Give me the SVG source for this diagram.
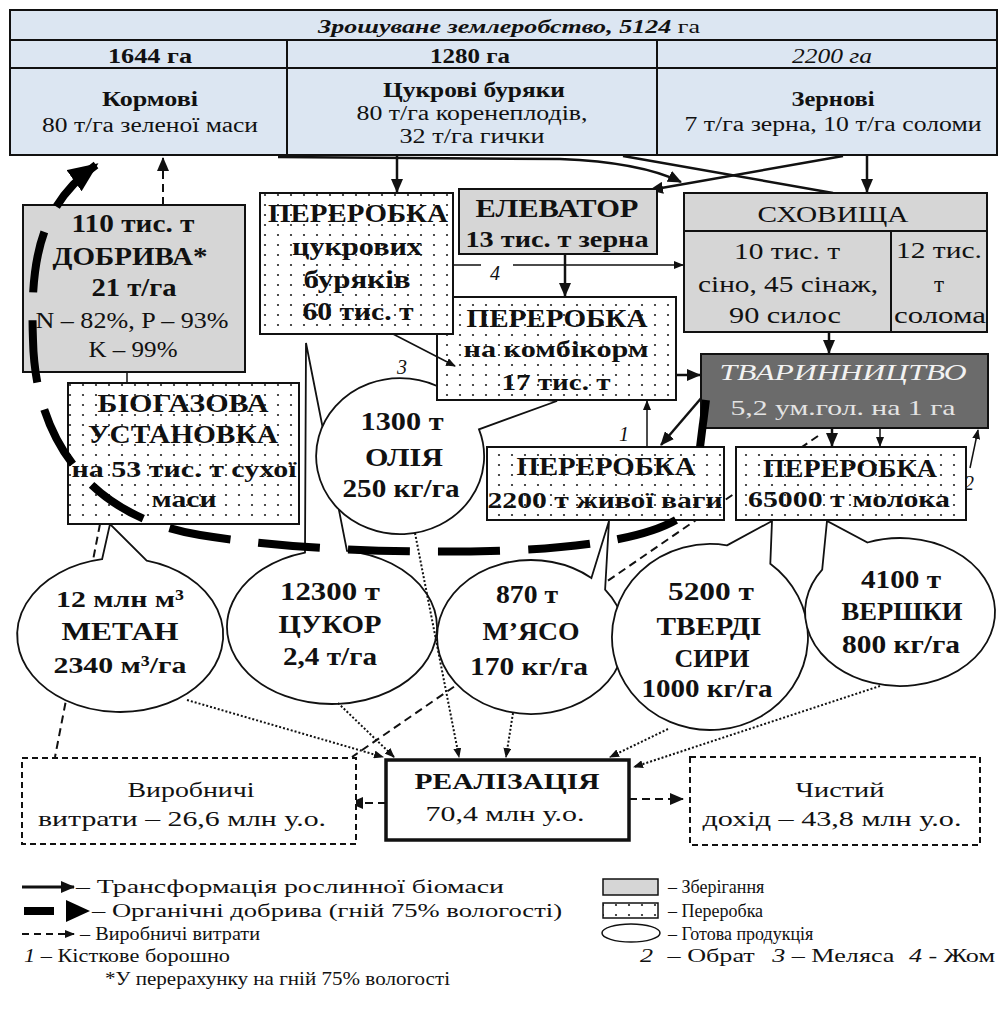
<svg xmlns="http://www.w3.org/2000/svg" width="1001" height="1016" viewBox="0 0 1001 1016">
<defs>
<pattern id="dots" width="13" height="10" patternUnits="userSpaceOnUse"><rect width="13" height="10" fill="#fff"/><circle cx="5" cy="5" r="1.1" fill="#222"/></pattern>
<marker id="ah" markerWidth="14" markerHeight="12" refX="13" refY="6" orient="auto" markerUnits="userSpaceOnUse"><path d="M0,0 L14,6 L0,12 z" fill="#111"/></marker>
<marker id="ahs" markerWidth="10" markerHeight="8" refX="9" refY="4" orient="auto" markerUnits="userSpaceOnUse"><path d="M0,0 L10,4 L0,8 z" fill="#111"/></marker>
<marker id="ahb" markerWidth="30" markerHeight="26" refX="27" refY="13" orient="auto" markerUnits="userSpaceOnUse"><path d="M0,0 L30,13 L0,26 z" fill="#000"/></marker>
<style>
.t{font-family:"Liberation Serif","Times New Roman",serif;fill:#111}
.b{font-weight:bold}
.i{font-style:italic}
.c{text-anchor:middle}
.box{stroke:#111;stroke-width:2}
.gray{fill:#d6d6d6}
.dot{fill:url(#dots)}
.cell{fill:none;stroke:#111;stroke-width:2}
.call{fill:#fff;stroke:#111;stroke-width:1.8}
.ln{fill:none;stroke:#111;stroke-width:2.5}
.thin{fill:none;stroke:#111;stroke-width:1.5}
.dsh{fill:none;stroke:#111;stroke-width:2;stroke-dasharray:8 5}
.dtt{fill:none;stroke:#111;stroke-width:2;stroke-dasharray:2 2}
.org{fill:none;stroke:#000;stroke-width:8;stroke-dasharray:62 28}
.lbl{font-family:"Liberation Serif","Times New Roman",serif;font-style:italic;font-size:20px;fill:#111;text-anchor:middle}
.lg{font-family:"Liberation Serif","Times New Roman",serif;font-size:18px;fill:#111}
</style>
</defs>
<rect width="1001" height="1016" fill="#fff"/>

<g id="connectors">
<path class="ln" d="M278,157 L560,159 Q640,162 681,182" marker-end="url(#ah)"/>
<path class="ln" d="M397,156 L397,192" marker-end="url(#ah)"/>
<path class="ln" d="M623,156 L833,193"/>
<path class="ln" d="M843,156 L650,190" marker-end="url(#ah)"/>
<path class="ln" d="M867,156 L867,192" marker-end="url(#ah)"/>
<path class="ln" d="M565,254 L565,296" marker-end="url(#ah)"/>
<path class="thin" d="M453,265 L481,265 M513,265 L683,265" marker-end="url(#ahs)"/>
<path class="ln" d="M676,375 L700,375" marker-end="url(#ah)"/>
<path class="ln" d="M829,332 L829,353" marker-end="url(#ah)"/>
<path class="ln" d="M703,396 L661,445" marker-end="url(#ah)"/>
<path class="thin" d="M647,447 L647,401" marker-end="url(#ahs)"/>
<path class="ln" d="M832,428 L832,446" marker-end="url(#ah)"/>
<path class="thin" d="M880,428 L880,446" marker-end="url(#ahs)"/>
<path class="thin" d="M970,468 L978,430" marker-end="url(#ahs)"/>
<path class="dsh" d="M163,205 L163,158" marker-end="url(#ah)"/>
<path class="thin" d="M127,372 L127,383"/>
<path class="dsh" d="M100,524 L55,757"/>
<path class="dsh" d="M818,436 L352,757"/>
<path class="dsh" d="M386,803 L350,803" marker-end="url(#ah)"/>
<path class="dsh" d="M629,799 L683,799" marker-end="url(#ah)"/>
<text class="lbl" x="495" y="280">4</text>
<text class="lbl" x="402" y="374">3</text>
<text class="lbl" x="624" y="441">1</text>
<text class="lbl" x="969" y="490">2</text>
</g>

<g id="metan">
<path class="call" d="M102.1,559.2 L110,524 L146.7,560.6 A103,77 0 1 1 102.1,559.2 Z"/>
<text class="t b c" font-size="24" x="120" y="607" textLength="128" lengthAdjust="spacingAndGlyphs">12 млн м³</text>
<text class="t b c" font-size="25" x="120" y="640" textLength="117" lengthAdjust="spacingAndGlyphs">МЕТАН</text>
<text class="t b c" font-size="24" x="120" y="673" textLength="133" lengthAdjust="spacingAndGlyphs">2340 м³/га</text>
</g>
<g id="tsukor">
<path class="call" d="M305,552.6 L306,343 L347,550.8 A105,77 0 1 1 305,552.6 Z"/>
<text class="t b c" font-size="25" x="330" y="600" textLength="100" lengthAdjust="spacingAndGlyphs">12300 т</text>
<text class="t b c" font-size="25" x="330" y="633" textLength="103" lengthAdjust="spacingAndGlyphs">ЦУКОР</text>
<text class="t b c" font-size="25" x="330" y="665" textLength="94" lengthAdjust="spacingAndGlyphs">2,4 т/га</text>
</g>
<g id="oliia">
<path class="call" d="M444.5,389.9 L557,401 L479,429.3 A84,78 0 1 1 444.5,389.9 Z"/>
<text class="t b c" font-size="25" x="402" y="430" textLength="83" lengthAdjust="spacingAndGlyphs">1300 т</text>
<text class="t b c" font-size="25" x="404" y="466" textLength="78" lengthAdjust="spacingAndGlyphs">ОЛІЯ</text>
<text class="t b c" font-size="25" x="401" y="497" textLength="117" lengthAdjust="spacingAndGlyphs">250 кг/га</text>
</g>
<g id="miaso">
<path class="call" d="M591.4,578 L609,521 L605.1,589.6 A94,77 0 1 1 591.4,578 Z"/>
<text class="t b c" font-size="25" x="527" y="603" textLength="62" lengthAdjust="spacingAndGlyphs">870 т</text>
<text class="t b c" font-size="25" x="531" y="640" textLength="97" lengthAdjust="spacingAndGlyphs">М’ЯСО</text>
<text class="t b c" font-size="25" x="529" y="675" textLength="118" lengthAdjust="spacingAndGlyphs">170 кг/га</text>
</g>
<g id="syry">
<path class="call" d="M727,545.4 L772,521 L770.3,563.7 A98,93 0 1 1 727,545.4 Z"/>
<text class="t b c" font-size="25" x="711" y="600" textLength="86" lengthAdjust="spacingAndGlyphs">5200 т</text>
<text class="t b c" font-size="25" x="709" y="635" textLength="105" lengthAdjust="spacingAndGlyphs">ТВЕРДІ</text>
<text class="t b c" font-size="25" x="712" y="667" textLength="75" lengthAdjust="spacingAndGlyphs">СИРИ</text>
<text class="t b c" font-size="25" x="707" y="697" textLength="131" lengthAdjust="spacingAndGlyphs">1000 кг/га</text>
</g>
<g id="vershky">
<path class="call" d="M822.2,569.6 L827,521 L867.5,542.5 A95,74 0 1 1 822.2,569.6 Z"/>
<text class="t b c" font-size="25" x="901" y="588" textLength="80" lengthAdjust="spacingAndGlyphs">4100 т</text>
<text class="t b c" font-size="25" x="902" y="620" textLength="121" lengthAdjust="spacingAndGlyphs">ВЕРШКИ</text>
<text class="t b c" font-size="25" x="901" y="653" textLength="118" lengthAdjust="spacingAndGlyphs">800 кг/га</text>
</g>

<g id="table">
<rect x="10" y="10" width="987" height="145" fill="#dce6f2" stroke="#111" stroke-width="2"/>
<path class="cell" d="M10,40 H997 M10,68 H997 M287,40 V155 M657,40 V155"/>
<text class="t b i c" font-size="19" x="509" y="33" textLength="382" lengthAdjust="spacingAndGlyphs">Зрошуване землеробство, 5124 <tspan font-weight="normal" font-style="normal">га</tspan></text>
<g id="kormovi">
<text class="t b c" font-size="20" x="150" y="63" textLength="84" lengthAdjust="spacingAndGlyphs">1644 га</text>
<text class="t b c" font-size="22" x="150" y="106" textLength="96" lengthAdjust="spacingAndGlyphs">Кормові</text>
<text class="t c" font-size="20" x="150" y="132" textLength="216" lengthAdjust="spacingAndGlyphs">80 т/га зеленої маси</text>
</g>
<g id="tsukrovi">
<text class="t b c" font-size="20" x="470" y="63" textLength="80" lengthAdjust="spacingAndGlyphs">1280 га</text>
<text class="t b c" font-size="22" x="474" y="97" textLength="182" lengthAdjust="spacingAndGlyphs">Цукрові буряки</text>
<text class="t c" font-size="20" x="472" y="120" textLength="231" lengthAdjust="spacingAndGlyphs">80 т/га коренеплодів,</text>
<text class="t c" font-size="20" x="472" y="143" textLength="145" lengthAdjust="spacingAndGlyphs">32 т/га гички</text>
</g>
<g id="zernovi">
<text class="t i c" font-size="20" x="832" y="63" textLength="80" lengthAdjust="spacingAndGlyphs">2200 га</text>
<text class="t b c" font-size="22" x="833" y="106" textLength="83" lengthAdjust="spacingAndGlyphs">Зернові</text>
<text class="t c" font-size="20" x="833" y="131" textLength="297" lengthAdjust="spacingAndGlyphs">7 т/га зерна, 10 т/га соломи</text>
</g>
</g>

<g id="dobryva">
<rect class="box gray" x="23" y="205" width="222" height="167"/>
<text class="t b c" font-size="25" x="133" y="232" textLength="123" lengthAdjust="spacingAndGlyphs">110 тис. т</text>
<text class="t b c" font-size="25" x="130" y="265" textLength="155" lengthAdjust="spacingAndGlyphs">ДОБРИВА*</text>
<text class="t b c" font-size="25" x="134" y="296" textLength="85" lengthAdjust="spacingAndGlyphs">21 т/га</text>
<text class="t c" font-size="23" x="132" y="328" textLength="193" lengthAdjust="spacingAndGlyphs">N – 82%, P – 93%</text>
<text class="t c" font-size="23" x="133" y="357" textLength="89" lengthAdjust="spacingAndGlyphs">K – 99%</text>
</g>
<g id="biogaz">
<rect class="box dot" x="68" y="383" width="231" height="141"/>
<text class="t b c" font-size="25" x="183" y="412" textLength="171" lengthAdjust="spacingAndGlyphs">БІОГАЗОВА</text>
<text class="t b c" font-size="25" x="183" y="443" textLength="190" lengthAdjust="spacingAndGlyphs">УСТАНОВКА</text>
<text class="t b c" font-size="24" x="184" y="477" textLength="225" lengthAdjust="spacingAndGlyphs">на 53 тис. т сухої</text>
<text class="t b c" font-size="24" x="184" y="507" textLength="65" lengthAdjust="spacingAndGlyphs">маси</text>
</g>
<g id="kombikorm">
<rect class="box dot" x="437" y="297" width="239" height="103"/>
<text class="t b c" font-size="25" x="557" y="327" textLength="181" lengthAdjust="spacingAndGlyphs">ПЕРЕРОБКА</text>
<text class="t b c" font-size="24" x="556" y="357" textLength="185" lengthAdjust="spacingAndGlyphs">на комбікорм</text>
<text class="t b c" font-size="24" x="556" y="390" textLength="109" lengthAdjust="spacingAndGlyphs">17 тис. т</text>
</g>
<g id="tsukrovi-pererobka">
<rect class="box dot" x="260" y="193" width="193" height="141"/>
<text class="t b c" font-size="25" x="358" y="222" textLength="180" lengthAdjust="spacingAndGlyphs">ПЕРЕРОБКА</text>
<text class="t b c" font-size="25" x="357" y="255" textLength="130" lengthAdjust="spacingAndGlyphs">цукрових</text>
<text class="t b c" font-size="25" x="357" y="288" textLength="107" lengthAdjust="spacingAndGlyphs">буряків</text>
<text class="t b c" font-size="25" x="358" y="320" textLength="111" lengthAdjust="spacingAndGlyphs">60 тис. т</text>
</g>
<g id="elevator">
<rect class="box gray" x="459" y="189" width="198" height="65"/>
<text class="t b c" font-size="25" x="557" y="217" textLength="163" lengthAdjust="spacingAndGlyphs">ЕЛЕВАТОР</text>
<text class="t b c" font-size="24" x="557" y="247" textLength="183" lengthAdjust="spacingAndGlyphs">13 тис. т зерна</text>
</g>
<g id="skhovyshcha">
<rect class="box gray" x="684" y="193" width="303" height="139"/>
<path class="cell" d="M684,231 H987 M891,231 V332"/>
<text class="t c" font-size="23" x="833" y="222" textLength="151" lengthAdjust="spacingAndGlyphs">СХОВИЩА</text>
<text class="t c" font-size="23" x="787" y="259" textLength="106" lengthAdjust="spacingAndGlyphs">10 тис. т</text>
<text class="t c" font-size="23" x="788" y="292" textLength="180" lengthAdjust="spacingAndGlyphs">сіно, 45 сінаж,</text>
<text class="t c" font-size="23" x="785" y="323" textLength="112" lengthAdjust="spacingAndGlyphs">90 силос</text>
<text class="t c" font-size="23" x="939" y="258" textLength="86" lengthAdjust="spacingAndGlyphs">12 тис.</text>
<text class="t c" font-size="23" x="939" y="292">т</text>
<text class="t c" font-size="23" x="940" y="323" textLength="92" lengthAdjust="spacingAndGlyphs">солома</text>
</g>
<g id="tvarynnytstvo">
<rect x="701" y="354" width="287" height="74" fill="#6b6b6b" stroke="#111" stroke-width="2"/>
<text class="t i c" font-size="24" x="843" y="380" style="fill:#f2f2f2" textLength="247" lengthAdjust="spacingAndGlyphs">ТВАРИННИЦТВО</text>
<text class="t c" font-size="22" x="843" y="415" style="fill:#e4e4e4" textLength="225" lengthAdjust="spacingAndGlyphs">5,2 ум.гол. на 1 га</text>
</g>
<g id="miaso-pererobka">
<rect class="box dot" x="487" y="447" width="237" height="73"/>
<text class="t b c" font-size="25" x="606" y="475" textLength="179" lengthAdjust="spacingAndGlyphs">ПЕРЕРОБКА</text>
<text class="t b c" font-size="24" x="605" y="508" textLength="235" lengthAdjust="spacingAndGlyphs">2200 т живої ваги</text>
</g>
<g id="moloko-pererobka">
<rect class="box dot" x="736" y="447" width="230" height="73"/>
<text class="t b c" font-size="25" x="850" y="477" textLength="174" lengthAdjust="spacingAndGlyphs">ПЕРЕРОБКА</text>
<text class="t b c" font-size="24" x="849" y="507" textLength="202" lengthAdjust="spacingAndGlyphs">65000 т молока</text>
</g>
<g id="vytraty">
<rect x="22" y="758" width="334" height="86" fill="#fff" stroke="#111" stroke-width="2" stroke-dasharray="6 4"/>
<text class="t c" font-size="22" x="191" y="797" textLength="127" lengthAdjust="spacingAndGlyphs">Виробничі</text>
<text class="t c" font-size="22" x="182" y="826" textLength="288" lengthAdjust="spacingAndGlyphs">витрати – 26,6 млн у.о.</text>
</g>
<g id="realizatsiia">
<rect x="386" y="760" width="243" height="80" fill="#fff" stroke="#111" stroke-width="3.5"/>
<text class="t b c" font-size="24" x="507" y="789" textLength="185" lengthAdjust="spacingAndGlyphs">РЕАЛІЗАЦІЯ</text>
<text class="t c" font-size="22" x="505" y="821" textLength="159" lengthAdjust="spacingAndGlyphs">70,4 млн у.о.</text>
</g>
<g id="dokhid">
<rect x="690" y="757" width="290" height="88" fill="#fff" stroke="#111" stroke-width="2" stroke-dasharray="6 4"/>
<text class="t c" font-size="22" x="840" y="797" textLength="89" lengthAdjust="spacingAndGlyphs">Чистий</text>
<text class="t c" font-size="22" x="832" y="826" textLength="259" lengthAdjust="spacingAndGlyphs">дохід – 43,8 млн у.о.</text>
</g>

<g id="connectors-front">
<path class="org" d="M676,520 C650,535 600,546 520,550 C400,555 280,548 200,535 C90,517 35,440 33,340 C30,260 40,205 96,165" marker-end="url(#ahb)"/>
<path d="M706,400 L700,447" stroke="#000" stroke-width="8"/>
<path class="thin" d="M393,334 L455,366" marker-end="url(#ahs)"/>
<path class="dtt" d="M187,700 L383,757" marker-end="url(#ahs)"/>
<path class="dtt" d="M338,703 L394,757" marker-end="url(#ahs)"/>
<path class="dtt" d="M415,533 L459,757" marker-end="url(#ahs)"/>
<path class="dtt" d="M513,713 L506,757" marker-end="url(#ahs)"/>
<path class="dtt" d="M668,729 L610,757" marker-end="url(#ahs)"/>
<path class="dtt" d="M880,686 L634,767" marker-end="url(#ahs)"/>
</g>

<g id="legend">
<path d="M22,887 L74,887" stroke="#111" stroke-width="3" marker-end="url(#ah)"/>
<text class="lg" x="76" y="893" textLength="428" lengthAdjust="spacingAndGlyphs">– Трансформація рослинної біомаси</text>
<rect x="24" y="907" width="30" height="8" fill="#000"/>
<path d="M66,900 L90,911 L66,922 z" fill="#000"/>
<text class="lg" x="92" y="917" textLength="470" lengthAdjust="spacingAndGlyphs">– Органічні добрива  (гній 75% вологості)</text>
<path d="M22,934 L74,934" stroke="#111" stroke-width="2" stroke-dasharray="7 5" marker-end="url(#ahs)"/>
<text class="lg" x="80" y="940" textLength="180" lengthAdjust="spacingAndGlyphs">– Виробничі витрати</text>
<text class="lg" x="24" y="962" textLength="206" lengthAdjust="spacingAndGlyphs"><tspan font-style="italic">1</tspan> – Кісткове борошно</text>
<text class="lg" x="105" y="985" textLength="345" lengthAdjust="spacingAndGlyphs">*У перерахунку на гній 75% вологості</text>
<rect x="603" y="879" width="55" height="16" fill="#d6d6d6" stroke="#111" stroke-width="1.5"/>
<text class="lg" x="668" y="893">– Зберігання</text>
<rect x="603" y="903" width="55" height="15" fill="url(#dots)" stroke="#111" stroke-width="1.5"/>
<text class="lg" x="668" y="917">– Переробка</text>
<ellipse cx="631" cy="933" rx="29" ry="9" fill="#fff" stroke="#111" stroke-width="1.5"/>
<text class="lg" x="668" y="940">– Готова продукція</text>
<text class="lg" x="640" y="962" textLength="355" lengthAdjust="spacingAndGlyphs"><tspan font-style="italic">2</tspan><tspan dx="10">– Обрат</tspan><tspan dx="12" font-style="italic">3</tspan> – Меляса<tspan dx="10" font-style="italic">4</tspan> - Жом</text>
</g>
</svg>
